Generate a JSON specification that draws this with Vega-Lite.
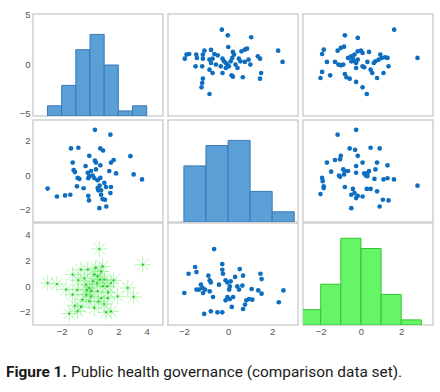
{
  "$schema": "https://vega.github.io/schema/vega-lite/v6.json",
  "padding": {"left": 6, "top": 9, "right": 5, "bottom": 5},
  "background": "white",
  "config": {
    "view": {"stroke": "#d0d0d0", "strokeWidth": 1.5},
    "axis": {"domain": false, "ticks": false, "grid": false, "labelColor": "#555555", "labelFont": "Liberation Sans", "labelFontSize": 9.5, "labelPadding": 3, "labelOverlap": false},
    "axisX": {"labelPadding": 1}
  },
  "datasets": {
    "h11": [{"bin_start": -3, "bin_end": -2, "count": 2}, {"bin_start": -2, "bin_end": -1, "count": 6}, {"bin_start": -1, "bin_end": 0, "count": 13}, {"bin_start": 0, "bin_end": 1, "count": 16}, {"bin_start": 1, "bin_end": 2, "count": 10}, {"bin_start": 2, "bin_end": 3, "count": 1}, {"bin_start": 3, "bin_end": 4, "count": 2}],
    "h22": [{"bin_start": -2, "bin_end": -1, "count": 11}, {"bin_start": -1, "bin_end": 0, "count": 15}, {"bin_start": 0, "bin_end": 1, "count": 16}, {"bin_start": 1, "bin_end": 2, "count": 6}, {"bin_start": 2, "bin_end": 3, "count": 2}],
    "h33": [{"bin_start": -3, "bin_end": -2, "count": 3}, {"bin_start": -2, "bin_end": -1, "count": 8}, {"bin_start": -1, "bin_end": 0, "count": 17}, {"bin_start": 0, "bin_end": 1, "count": 15}, {"bin_start": 1, "bin_end": 2, "count": 6}, {"bin_start": 2, "bin_end": 3, "count": 1}],
    "p12": [{"x": -0.28, "y": 3.5}, {"x": -0.01, "y": 2.93}, {"x": 1.05, "y": 2.73}, {"x": 2.27, "y": 1.38}, {"x": 2.47, "y": 0.24}, {"x": 0.01, "y": 1.75}, {"x": 0.22, "y": 1.25}, {"x": 0.76, "y": 1.48}, {"x": 0.86, "y": 1.58}, {"x": 0.61, "y": 1.31}, {"x": -1.88, "y": 0.98}, {"x": -1.96, "y": 0.57}, {"x": -1.76, "y": 1.04}, {"x": -1.44, "y": 0.98}, {"x": -1.41, "y": 0.64}, {"x": -1.14, "y": 0.98}, {"x": -1.07, "y": 1.38}, {"x": -0.77, "y": 1.45}, {"x": -1.14, "y": 0.57}, {"x": -0.84, "y": 0.47}, {"x": -0.7, "y": 0.57}, {"x": -0.62, "y": 1.04}, {"x": -0.47, "y": 0.91}, {"x": -0.25, "y": 0.57}, {"x": -0.18, "y": 0.3}, {"x": -0.1, "y": 0.13}, {"x": -0.03, "y": -0.03}, {"x": 0.04, "y": -0.2}, {"x": 0.12, "y": 0.3}, {"x": 0.19, "y": 0.64}, {"x": 0.49, "y": 0.57}, {"x": 0.56, "y": 0.3}, {"x": 0.76, "y": 0.24}, {"x": 1.01, "y": -0.03}, {"x": 1.35, "y": 0.81}, {"x": 1.45, "y": 0.57}, {"x": -1.47, "y": -0.2}, {"x": -1.17, "y": -0.2}, {"x": -0.84, "y": -0.54}, {"x": -0.7, "y": -0.88}, {"x": -0.25, "y": -0.88}, {"x": 0.16, "y": -1.11}, {"x": 0.22, "y": -1.25}, {"x": 0.43, "y": -0.37}, {"x": 0.67, "y": -1.31}, {"x": 1.5, "y": -0.88}, {"x": 1.45, "y": -1.45}, {"x": -1.14, "y": -1.45}, {"x": -1.17, "y": -1.89}, {"x": -1.2, "y": -2.32}, {"x": -0.84, "y": -3.0}, {"x": -0.1, "y": -0.37}, {"x": -0.33, "y": -0.2}, {"x": 0.34, "y": -0.03}, {"x": 0.93, "y": 0.47}, {"x": -0.77, "y": 0.13}, {"x": -0.55, "y": -0.03}, {"x": 0.27, "y": 0.98}],
    "p13": [{"x": 1.65, "y": 3.5}, {"x": 2.81, "y": 0.64}, {"x": -0.8, "y": 2.93}, {"x": -0.16, "y": 2.66}, {"x": -1.85, "y": 1.48}, {"x": -1.93, "y": 1.04}, {"x": -1.16, "y": 1.38}, {"x": -1.0, "y": 1.65}, {"x": -0.84, "y": 1.78}, {"x": -1.69, "y": 0.24}, {"x": -1.29, "y": 0.24}, {"x": -1.12, "y": -0.03}, {"x": -1.0, "y": -0.1}, {"x": -0.88, "y": -0.03}, {"x": -0.48, "y": 0.81}, {"x": -0.4, "y": 0.57}, {"x": -0.32, "y": 0.98}, {"x": -0.16, "y": 1.31}, {"x": 0.0, "y": 1.38}, {"x": 0.08, "y": 1.14}, {"x": 0.4, "y": 1.25}, {"x": -0.32, "y": 0.3}, {"x": -0.24, "y": 0.13}, {"x": -0.16, "y": 0.47}, {"x": 0.08, "y": -0.2}, {"x": 0.16, "y": -0.3}, {"x": 0.32, "y": 0.24}, {"x": 0.72, "y": 0.3}, {"x": 0.88, "y": 0.47}, {"x": 0.96, "y": 0.98}, {"x": 1.04, "y": 0.64}, {"x": 1.32, "y": 0.64}, {"x": 1.37, "y": -0.2}, {"x": 0.48, "y": -0.54}, {"x": 0.56, "y": -0.88}, {"x": 0.8, "y": -1.38}, {"x": 1.12, "y": -0.88}, {"x": -1.53, "y": -1.11}, {"x": -1.93, "y": -0.77}, {"x": -2.01, "y": -1.38}, {"x": -0.8, "y": -0.98}, {"x": -0.72, "y": -1.31}, {"x": -0.56, "y": -1.45}, {"x": -0.24, "y": -1.78}, {"x": 0.08, "y": -2.32}, {"x": 0.29, "y": -3.0}, {"x": -0.24, "y": -0.37}, {"x": -0.48, "y": 0.3}, {"x": 0.64, "y": 0.13}, {"x": 1.2, "y": 0.71}, {"x": -0.64, "y": 0.64}],
    "p21": [{"x": 0.35, "y": 2.63}, {"x": 1.44, "y": 2.35}, {"x": -1.34, "y": 1.55}, {"x": -0.82, "y": 1.59}, {"x": 0.73, "y": 1.55}, {"x": 0.92, "y": 1.43}, {"x": 2.85, "y": 1.1}, {"x": -1.22, "y": 0.73}, {"x": -1.15, "y": 0.29}, {"x": -1.06, "y": 0.18}, {"x": -0.75, "y": -0.22}, {"x": -0.87, "y": -0.16}, {"x": -0.92, "y": -0.65}, {"x": -0.45, "y": -0.76}, {"x": -0.31, "y": 0.53}, {"x": -0.05, "y": 1.12}, {"x": 0.35, "y": 0.84}, {"x": 0.42, "y": 0.73}, {"x": 0.73, "y": 0.57}, {"x": 1.48, "y": 0.73}, {"x": 1.67, "y": 0.88}, {"x": 1.36, "y": 0.24}, {"x": 1.84, "y": 0.1}, {"x": 3.08, "y": 0.04}, {"x": 3.67, "y": -0.25}, {"x": -0.16, "y": 0.14}, {"x": -0.05, "y": -0.06}, {"x": -0.12, "y": -0.18}, {"x": 0.19, "y": -0.02}, {"x": 0.31, "y": -0.18}, {"x": 0.42, "y": 0.33}, {"x": 0.73, "y": -0.16}, {"x": 1.01, "y": -0.45}, {"x": 1.13, "y": -0.69}, {"x": 0.54, "y": -0.75}, {"x": 0.59, "y": -0.88}, {"x": 0.68, "y": -0.61}, {"x": 0.78, "y": -1.14}, {"x": 0.89, "y": -1.39}, {"x": 1.06, "y": -1.43}, {"x": 1.48, "y": -0.69}, {"x": 1.44, "y": -1.04}, {"x": -0.12, "y": -1.2}, {"x": -0.07, "y": -1.47}, {"x": 0.66, "y": -1.92}, {"x": 1.15, "y": -1.82}, {"x": -2.99, "y": -0.78}, {"x": -2.33, "y": -1.24}, {"x": -1.76, "y": -1.18}, {"x": -1.39, "y": -1.14}, {"x": 0.54, "y": -0.29}, {"x": 0.07, "y": 0.24}, {"x": 0.78, "y": -0.88}],
    "p23": [{"x": -0.24, "y": 2.63}, {"x": -1.16, "y": 2.35}, {"x": -0.56, "y": 1.55}, {"x": -0.29, "y": 1.47}, {"x": 0.48, "y": 1.59}, {"x": 0.93, "y": 1.55}, {"x": -0.16, "y": 1.12}, {"x": -1.0, "y": 1.12}, {"x": -1.04, "y": 0.92}, {"x": -1.29, "y": 0.88}, {"x": -1.69, "y": 0.73}, {"x": 0.08, "y": 0.73}, {"x": 0.8, "y": 0.73}, {"x": 1.32, "y": 0.57}, {"x": -0.24, "y": 0.53}, {"x": -1.48, "y": 0.2}, {"x": -0.88, "y": 0.33}, {"x": -0.8, "y": 0.24}, {"x": -0.84, "y": 0.04}, {"x": -1.04, "y": -0.1}, {"x": -1.09, "y": -0.02}, {"x": -0.24, "y": 0.14}, {"x": 0.16, "y": 0.1}, {"x": 0.24, "y": -0.02}, {"x": 0.32, "y": 0.1}, {"x": 0.4, "y": 0.24}, {"x": 0.72, "y": 0.33}, {"x": 0.67, "y": -0.22}, {"x": 1.12, "y": -0.25}, {"x": 1.32, "y": -0.18}, {"x": 1.64, "y": -0.25}, {"x": 2.81, "y": -0.61}, {"x": -1.93, "y": -0.16}, {"x": -1.9, "y": -0.35}, {"x": -1.85, "y": -0.65}, {"x": -1.85, "y": -0.75}, {"x": -2.01, "y": -1.1}, {"x": -0.8, "y": -0.69}, {"x": -0.4, "y": -0.8}, {"x": -0.48, "y": -1.14}, {"x": -0.32, "y": -1.04}, {"x": -0.24, "y": -1.33}, {"x": -0.16, "y": -1.2}, {"x": 0.08, "y": -1.24}, {"x": 0.29, "y": -0.8}, {"x": 0.48, "y": -0.8}, {"x": 0.8, "y": -0.94}, {"x": 1.09, "y": -1.43}, {"x": 1.37, "y": -1.47}, {"x": 0.93, "y": -1.82}, {"x": -0.48, "y": -1.92}, {"x": 0.32, "y": -0.06}, {"x": -0.64, "y": 0.24}],
    "p31": [{"x": 0.66, "y": 2.86}, {"x": 3.72, "y": 1.65}, {"x": -2.99, "y": 0.23}, {"x": -2.33, "y": 0.15}, {"x": -1.69, "y": -0.28}, {"x": -1.22, "y": 0.88}, {"x": -0.82, "y": 0.44}, {"x": -0.64, "y": 1.26}, {"x": -0.16, "y": 1.26}, {"x": -0.28, "y": 0.1}, {"x": -0.05, "y": -0.15}, {"x": 0.19, "y": 0.36}, {"x": 0.54, "y": 0.75}, {"x": 0.78, "y": 1.13}, {"x": 0.89, "y": 1.52}, {"x": 1.01, "y": 0.49}, {"x": 1.2, "y": -0.03}, {"x": 1.48, "y": 0.23}, {"x": 1.67, "y": 0.44}, {"x": 1.95, "y": -0.8}, {"x": 1.25, "y": -0.93}, {"x": 0.78, "y": -0.93}, {"x": 0.31, "y": -1.7}, {"x": -0.64, "y": -1.62}, {"x": -1.06, "y": -1.52}, {"x": -1.46, "y": -2.14}, {"x": -0.87, "y": -1.96}, {"x": -0.05, "y": -1.19}, {"x": -0.28, "y": -0.67}, {"x": 1.48, "y": -1.96}, {"x": 1.13, "y": -2.04}, {"x": 2.66, "y": -0.15}, {"x": 3.08, "y": -0.85}, {"x": -1.22, "y": -0.67}, {"x": 0.54, "y": -0.41}, {"x": 0.07, "y": -0.8}, {"x": -0.52, "y": -1.06}, {"x": 0.3, "y": 0.9}, {"x": 0.5, "y": 0.2}, {"x": 0.9, "y": 0.0}, {"x": -0.4, "y": 0.6}, {"x": 0.1, "y": -0.4}, {"x": 1.3, "y": -0.5}, {"x": 0.6, "y": -1.2}, {"x": -0.9, "y": -0.3}, {"x": 0.4, "y": 1.4}, {"x": 1.0, "y": -1.4}, {"x": -0.2, "y": -0.3}, {"x": 0.7, "y": 0.5}],
    "p32": [{"x": -0.63, "y": 2.86}, {"x": -1.79, "y": 0.95}, {"x": -1.49, "y": 1.47}, {"x": -1.43, "y": 1.08}, {"x": -0.89, "y": 0.8}, {"x": -0.83, "y": 0.44}, {"x": -0.78, "y": 0.28}, {"x": -0.26, "y": 1.7}, {"x": -0.26, "y": 1.26}, {"x": -0.23, "y": 0.95}, {"x": -0.11, "y": 0.44}, {"x": -0.03, "y": 0.28}, {"x": 0.12, "y": 0.36}, {"x": 0.08, "y": -0.03}, {"x": 0.05, "y": -0.28}, {"x": 0.32, "y": 0.7}, {"x": 0.53, "y": 1.31}, {"x": 0.68, "y": 0.8}, {"x": 0.65, "y": 0.03}, {"x": 0.5, "y": -0.28}, {"x": 1.07, "y": -0.23}, {"x": 1.37, "y": -0.34}, {"x": 1.52, "y": -0.59}, {"x": 1.47, "y": 0.95}, {"x": 1.52, "y": 0.54}, {"x": -1.98, "y": -0.54}, {"x": -1.43, "y": -0.28}, {"x": -1.23, "y": 0.1}, {"x": -1.16, "y": -0.15}, {"x": -1.13, "y": -0.54}, {"x": -1.04, "y": -0.28}, {"x": -0.83, "y": -0.41}, {"x": -0.68, "y": -0.85}, {"x": -0.11, "y": -1.11}, {"x": -0.03, "y": -0.85}, {"x": 0.08, "y": -1.01}, {"x": 0.23, "y": -0.85}, {"x": 0.17, "y": -1.62}, {"x": 0.68, "y": -1.78}, {"x": 0.77, "y": -1.44}, {"x": 0.83, "y": -1.11}, {"x": 0.95, "y": -1.01}, {"x": 1.1, "y": -1.06}, {"x": 2.3, "y": -1.26}, {"x": 2.51, "y": -0.34}, {"x": -1.08, "y": -2.16}, {"x": -0.78, "y": -1.96}, {"x": -0.48, "y": -2.04}, {"x": -0.26, "y": -2.04}, {"x": 0.42, "y": -0.03}, {"x": -0.41, "y": 0.1}, {"x": -1.31, "y": -0.28}],
    "caption": [{"label": "Figure 1.", "text": "Public health governance (comparison data set)."}]
  },
  "spacing": 27,
  "vconcat": [
    {
      "spacing": -1,
      "vconcat": [
        {
          "spacing": 3,
          "hconcat": [
            {
              "width": 130, "height": 102,
              "layer": [
                {
                  "data": {"name": "h11"},
                  "mark": {"type": "rect", "fill": "#5aa0d7", "stroke": "#3a78b8", "strokeWidth": 1, "clip": true},
                  "encoding": {
                    "x": {"field": "bin_start", "type": "quantitative", "scale": {"domain": [-4.02, 5.15], "nice": false, "zero": false}, "axis": null},
                    "x2": {"field": "bin_end"},
                    "y": {"field": "count", "type": "quantitative", "scale": {"domain": [0, 20], "nice": false}, "axis": null},
                    "y2": {"datum": 0}
                  }
                },
                {
                  "data": {"name": "p12"},
                  "mark": {"type": "point", "opacity": 0},
                  "encoding": {
                    "y": {"field": "y", "type": "quantitative", "scale": {"domain": [-5.22, 5.08], "nice": false, "zero": false}, "axis": {"values": [-5, 0, 5], "minExtent": 26, "title": null}}
                  }
                }
              ],
              "resolve": {"scale": {"y": "independent"}}
            },
            {
              "width": 130, "height": 102,
              "data": {"name": "p12"},
              "mark": {"type": "circle", "color": "#0d6ec0", "size": 22, "opacity": 1},
              "encoding": {
                "x": {"field": "x", "type": "quantitative", "scale": {"domain": [-2.72, 3.17], "nice": false, "zero": false}, "axis": null},
                "y": {"field": "y", "type": "quantitative", "scale": {"domain": [-5.22, 5.08], "nice": false, "zero": false}, "axis": null}
              }
            },
            {
              "width": 130, "height": 102,
              "data": {"name": "p13"},
              "mark": {"type": "circle", "color": "#0d6ec0", "size": 22, "opacity": 1},
              "encoding": {
                "x": {"field": "x", "type": "quantitative", "scale": {"domain": [-2.88, 3.58], "nice": false, "zero": false}, "axis": null},
                "y": {"field": "y", "type": "quantitative", "scale": {"domain": [-5.22, 5.08], "nice": false, "zero": false}, "axis": null}
              }
            }
          ]
        },
        {
          "spacing": 3,
          "hconcat": [
            {
              "width": 130, "height": 102,
              "data": {"name": "p21"},
              "mark": {"type": "circle", "color": "#0d6ec0", "size": 22, "opacity": 1},
              "encoding": {
                "x": {"field": "x", "type": "quantitative", "scale": {"domain": [-4.02, 5.15], "nice": false, "zero": false}, "axis": null},
                "y": {"field": "y", "type": "quantitative", "scale": {"domain": [-2.72, 3.2], "nice": false, "zero": false}, "axis": {"values": [-2, 0, 2], "minExtent": 26, "title": null}}
              }
            },
            {
              "width": 130, "height": 102,
              "data": {"name": "h22"},
              "mark": {"type": "rect", "fill": "#5aa0d7", "stroke": "#3a78b8", "strokeWidth": 1, "clip": true},
              "encoding": {
                "x": {"field": "bin_start", "type": "quantitative", "scale": {"domain": [-2.72, 3.17], "nice": false, "zero": false}, "axis": null},
                "x2": {"field": "bin_end"},
                "y": {"field": "count", "type": "quantitative", "scale": {"domain": [0, 20], "nice": false}, "axis": null},
                "y2": {"datum": 0}
              }
            },
            {
              "width": 130, "height": 102,
              "data": {"name": "p23"},
              "mark": {"type": "circle", "color": "#0d6ec0", "size": 22, "opacity": 1},
              "encoding": {
                "x": {"field": "x", "type": "quantitative", "scale": {"domain": [-2.88, 3.58], "nice": false, "zero": false}, "axis": null},
                "y": {"field": "y", "type": "quantitative", "scale": {"domain": [-2.72, 3.2], "nice": false, "zero": false}, "axis": null}
              }
            }
          ]
        },
        {
          "spacing": 3,
          "hconcat": [
            {
              "width": 130, "height": 102,
              "data": {"name": "p31"},
              "encoding": {
                "x": {"field": "x", "type": "quantitative", "scale": {"domain": [-4.02, 5.15], "nice": false, "zero": false}, "axis": {"values": [-2, 0, 2, 4], "title": null}},
                "y": {"field": "y", "type": "quantitative", "scale": {"domain": [-3.02, 4.88], "nice": false, "zero": false}, "axis": {"values": [-2, 0, 2, 4], "minExtent": 26, "title": null}}
              },
              "layer": [
                {
                  "mark": {"type": "point", "shape": "M0,-1L0,1M-1,0L1,0M-0.71,-0.71L0.71,0.71M-0.71,0.71L0.71,-0.71", "size": 260, "stroke": "#33e833", "strokeWidth": 1, "strokeOpacity": 0.5, "filled": false}
                },
                {
                  "mark": {"type": "circle", "size": 5, "color": "#1fbf1f", "opacity": 0.9}
                }
              ]
            },
            {
              "width": 130, "height": 102,
              "data": {"name": "p32"},
              "mark": {"type": "circle", "color": "#0d6ec0", "size": 22, "opacity": 1},
              "encoding": {
                "x": {"field": "x", "type": "quantitative", "scale": {"domain": [-2.72, 3.17], "nice": false, "zero": false}, "axis": {"values": [-2, 0, 2], "title": null}},
                "y": {"field": "y", "type": "quantitative", "scale": {"domain": [-3.02, 4.88], "nice": false, "zero": false}, "axis": null}
              }
            },
            {
              "width": 130, "height": 102,
              "data": {"name": "h33"},
              "mark": {"type": "rect", "fill": "#66f566", "stroke": "#33c433", "strokeWidth": 1, "clip": true},
              "encoding": {
                "x": {"field": "bin_start", "type": "quantitative", "scale": {"domain": [-2.88, 3.58], "nice": false, "zero": false}, "axis": {"values": [-2, 0, 2], "title": null}},
                "x2": {"field": "bin_end"},
                "y": {"field": "count", "type": "quantitative", "scale": {"domain": [0, 20], "nice": false}, "axis": null},
                "y2": {"datum": 0}
              }
            }
          ]
        }
      ]
    },
    {
      "width": 420, "height": 16,
      "view": {"stroke": null},
      "data": {"name": "caption"},
      "layer": [
        {
          "mark": {"type": "text", "align": "left", "baseline": "middle", "font": "Roboto", "fontSize": 15.4, "fontWeight": "bold", "color": "#1a1a1a"},
          "encoding": {"x": {"value": -27}, "text": {"field": "label"}}
        },
        {
          "mark": {"type": "text", "align": "left", "baseline": "middle", "font": "Roboto", "fontSize": 15.4, "fontWeight": "normal", "color": "#1a1a1a", "dx": 65},
          "encoding": {"x": {"value": -27}, "text": {"field": "text"}}
        }
      ]
    }
  ]
}
